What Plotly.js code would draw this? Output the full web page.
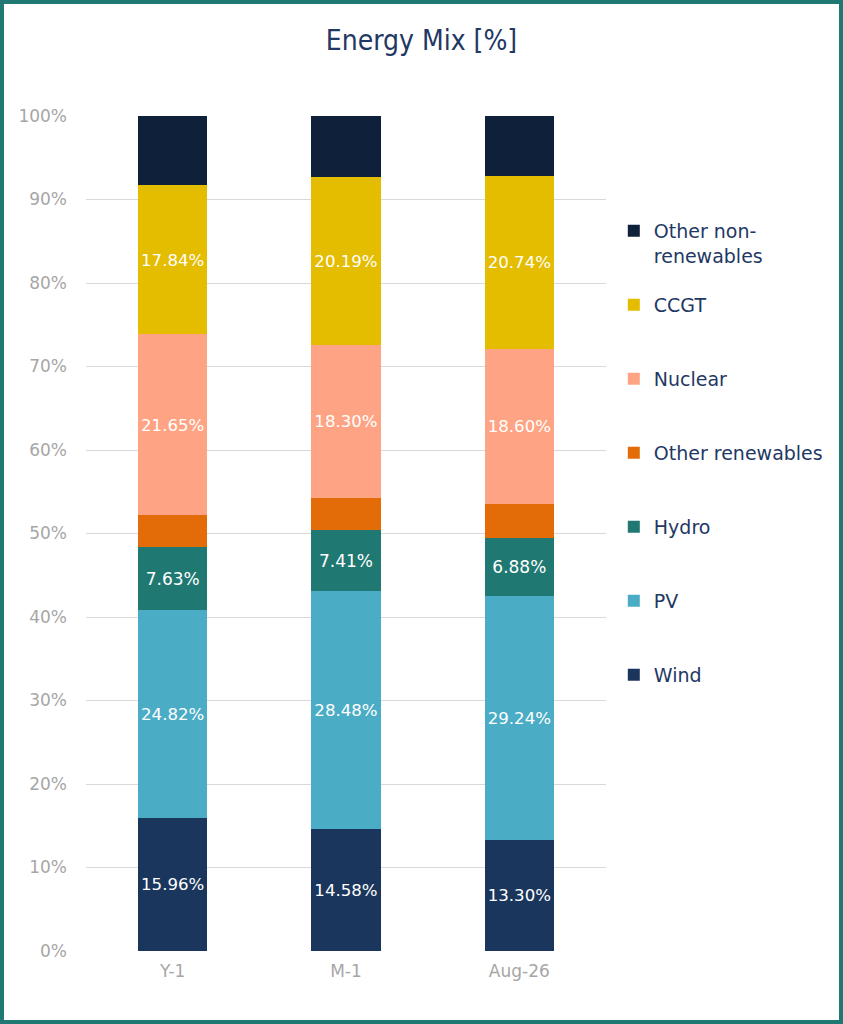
<!DOCTYPE html>
<html>
<head>
<meta charset="utf-8">
<script src="https://cdn.plot.ly/plotly-3.0.1.min.js"></script>
<style>
html,body{margin:0;padding:0;background:#fff;}
#frame{position:absolute;left:0;top:0;width:843px;height:1024px;box-sizing:border-box;border:4px solid #1f7872;}
#chart{position:absolute;left:0;top:0;width:843px;height:1024px;}
</style>
</head>
<body>
<div id="chart"></div>
<div id="frame"></div>
<script>
const categories = ["Y-1", "M-1", "Aug-26"];
const wind = [15.96, 14.58, 13.30];
const pv = [24.82, 28.48, 29.24];
const hydro = [7.63, 7.41, 6.88];
const otherRenewables = [3.8, 3.78, 4.1];
const nuclear = [21.65, 18.30, 18.60];
const ccgt = [17.84, 20.19, 20.74];
const otherNonRenewables = [8.3, 7.34, 7.14];
const yTickVals = [0, 10, 20, 30, 40, 50, 60, 70, 80, 90, 100];
const yTickText = ["0%", "10%", "20%", "30%", "40%", "50%", "60%", "70%", "80%", "90%", "100%"];

const FONT = "DejaVu Sans, Liberation Sans, Arial, sans-serif";

const seriesDefs = [
  {name: "Wind", y: wind, color: "#1a365d", label: true, legend: "legend"},
  {name: "PV", y: pv, color: "#4bacc6", label: true, legend: "legend"},
  {name: "Hydro", y: hydro, color: "#1f7872", label: true, legend: "legend"},
  {name: "Other renewables", y: otherRenewables, color: "#e36c09", label: false, legend: "legend"},
  {name: "Nuclear", y: nuclear, color: "#fea484", label: true, legend: "legend"},
  {name: "CCGT", y: ccgt, color: "#e4bc00", label: true, legend: "legend"},
  {name: "Other non-<br>renewables", y: otherNonRenewables, color: "#0f213a", label: false, legend: "legend2"}
];

const traces = seriesDefs.map((s, i) => ({
  type: "bar",
  x: categories,
  y: s.y,
  name: s.name,
  legend: s.legend,
  legendgroup: "g" + i,
  legendrank: 100 - i,
  marker: {color: s.color, line: {width: 0}},
  texttemplate: s.label ? "%{y:.2f}%" : "",
  textposition: "inside",
  insidetextanchor: "middle",
  textangle: 0,
  textfont: {color: "#ffffff", size: 17, family: FONT},
  hoverinfo: "skip"
}));

const legendCommon = {
  traceorder: "grouped",
  tracegroupgap: 46.3,
  font: {size: 19, color: "#1f3864", family: FONT},
  bgcolor: "rgba(0,0,0,0)",
  xanchor: "left",
  yanchor: "top",
  valign: "top",
  itemwidth: 30
};

const layout = {
  width: 843,
  height: 1024,
  paper_bgcolor: "#ffffff",
  plot_bgcolor: "#ffffff",
  margin: {l: 86, r: 237, t: 116, b: 73},
  barmode: "stack",
  bargap: 0.6,
  title: {
    text: "Energy Mix [%]",
    font: {size: 28, color: "#1f3864", family: "DejaVu Sans Condensed, Liberation Sans Narrow, Liberation Sans, sans-serif"},
    x: 0.5, xanchor: "center",
    y: 1 - 40 / 1024, yanchor: "middle", yref: "container"
  },
  xaxis: {
    type: "category",
    tickfont: {size: 17, color: "#a6a6a6", family: FONT},
    showline: false,
    ticks: "",
    showgrid: false,
    ticklabelstandoff: 8
  },
  yaxis: {
    range: [0, 100],
    tickvals: yTickVals,
    ticktext: yTickText,
    tickfont: {size: 17, color: "#a6a6a6", family: FONT},
    showgrid: true,
    gridcolor: "#d9d9d9",
    gridwidth: 1,
    zeroline: false,
    showline: false,
    ticks: "",
    ticklabelstandoff: 18
  },
  legend: Object.assign({}, legendCommon, {x: 1.015, y: (951 - 286) / 835}),
  legend2: Object.assign({}, legendCommon, {x: 1.015, y: (951 - 212) / 835}),
  showlegend: true
};

Plotly.newPlot("chart", traces, layout, {displayModeBar: false, staticPlot: true});
</script>
</body>
</html>
